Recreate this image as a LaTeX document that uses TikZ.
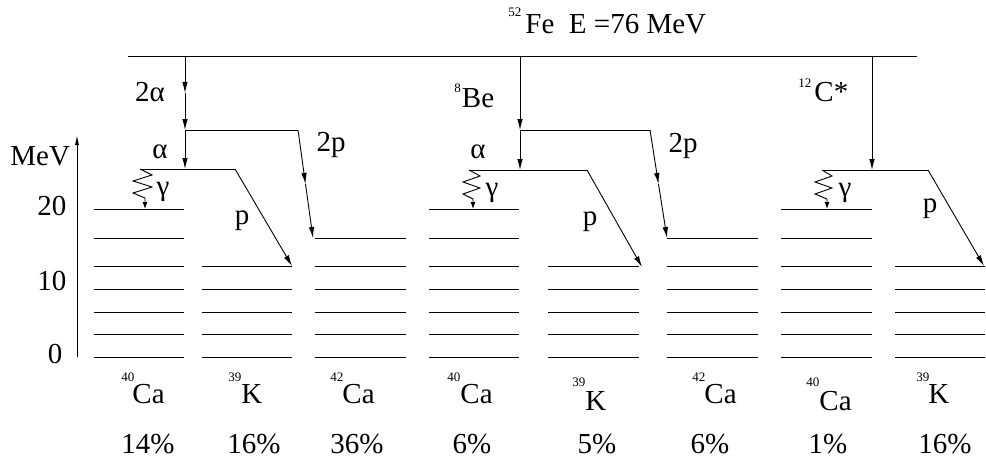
\documentclass[tikz,border=0pt]{standalone}
\usepackage{fontspec}
\setmainfont{Liberation Serif}
\usetikzlibrary{arrows.meta}
\newcommand\supn[2]{\raisebox{#1}{\fontsize{13}{13}\selectfont #2}}
\begin{document}
\begin{tikzpicture}[x=1pt,y=-1pt,line width=0.9pt,
  lvl/.style={line width=1pt},
  arr/.style={-{Latex[length=11pt,width=5.5pt]}},
  garr/.style={-{Latex[length=7pt,width=5pt]}},
  lab/.style={inner sep=0pt,anchor=base,font=\fontsize{29}{29}\selectfont},
  iso/.style={inner sep=0pt,anchor=base west,font=\fontsize{29}{29}\selectfont},
]
\useasboundingbox (0,0) rectangle (986,460);
% title
\node[iso] (title) at (508,34) {\supn{17pt}{52}\kern4pt Fe\ \ E =76 MeV};
\coordinate (topL) at (128,56);
\coordinate (topR) at (917,56);
\draw (topL) -- (topR);
% axis
\coordinate (axB) at (77,357);
\coordinate (axT) at (77,135);
\draw[-{Latex[length=10pt,width=4pt]}] (axB) -- (axT);
\node[lab,anchor=base west] (mev) at (10,165) {MeV};
\node[lab] (l20) at (52,215) {20};
\node[lab] (l10) at (52,290) {10};
\node[lab] (l0) at (55,363) {0};
% level lines
\foreach \y in {209,238,266,289,312,334,357}{
  \draw[lvl] (94,\y) -- (184,\y);
  \draw[lvl] (429,\y) -- (519,\y);
  \draw[lvl] (781,\y) -- (872,\y);}
\foreach \y in {266,289,312,334,357}{
  \draw[lvl] (202,\y) -- (292,\y);
  \draw[lvl] (548,\y) -- (639,\y);
  \draw[lvl] (895,\y) -- (985,\y);}
\foreach \y in {238,266,289,312,334,357}{
  \draw[lvl] (315,\y) -- (406,\y);
  \draw[lvl] (667,\y) -- (758,\y);}
% ---------- group 1
\coordinate (a1) at (185,56);
\coordinate (m1) at (185,93);
\coordinate (b1) at (185,130);
\coordinate (c1) at (185,169);
\coordinate (d1) at (298,130);
\coordinate (e1) at (305.5,184);
\coordinate (f1) at (313,238);
\coordinate (gL1) at (140,169);
\coordinate (gR1) at (235,169);
\coordinate (p1) at (292,266);
\draw[arr] (a1) -- (m1);
\draw[arr] (m1) -- (b1);
\draw[arr] (b1) -- (c1);
\draw (b1) -- (d1);
\draw[arr] (d1) -- (e1);
\draw[arr] (e1) -- (f1);
\draw (gL1) -- (gR1);
\draw[arr] (gR1) -- (p1);
\draw[garr] (gL1) -- ++(12,6) -- ++(-19,6) -- ++(19,6) -- ++(-19,6) -- ++(12,5) -- ++(0,11);
\node[lab] (t2a) at (150,102) {2α};
\node[lab] (ta1) at (160,158) {α};
\node[lab] (t2p1) at (331,151) {2p};
\node[lab] (tp1) at (242,224) {p};
\node[lab] (tg1) at (163,195) {γ};
% ---------- group 2
\coordinate (a2) at (520,56);
\coordinate (b2) at (520,130);
\coordinate (c2) at (520,170);
\coordinate (d2) at (650,130);
\coordinate (e2) at (658.5,184);
\coordinate (f2) at (667,238);
\coordinate (gL2) at (469,170);
\coordinate (gR2) at (587,170);
\coordinate (p2) at (642,267);
\draw[arr] (a2) -- (b2);
\draw[arr] (b2) -- (c2);
\draw (b2) -- (d2);
\draw[arr] (d2) -- (e2);
\draw[arr] (e2) -- (f2);
\draw (gL2) -- (gR2);
\draw[arr] (gR2) -- (p2);
\draw[garr] (gL2) -- ++(11,6) -- ++(-17,6) -- ++(17,6) -- ++(-17,6) -- ++(10,5) -- ++(0,10);
\node[iso] (tbe) at (454,107) {\supn{15pt}{8}\kern1pt Be};
\node[lab] (ta2) at (478,158) {α};
\node[lab] (t2p2) at (683,152) {2p};
\node[lab] (tp2) at (590,225) {p};
\node[lab] (tg2) at (492,196) {γ};
% ---------- group 3
\coordinate (a3) at (872,56);
\coordinate (c3) at (872,170);
\coordinate (gL3) at (822,170);
\coordinate (gR3) at (928,170);
\coordinate (p3) at (984,266);
\draw[arr] (a3) -- (c3);
\draw (gL3) -- (gR3);
\draw[arr] (gR3) -- (p3);
\draw[garr] (gL3) -- ++(10,6) -- ++(-17,6) -- ++(17,6) -- ++(-17,6) -- ++(12,5) -- ++(0,10);
\node[iso] (tc) at (798,102) {\supn{14pt}{12}\kern3pt C*};
\node[lab] (tp3) at (930,212) {p};
\node[lab] (tg3) at (845,196) {γ};
% ---------- isotopes
\node[iso] (i1) at (121,403) {\supn{22pt}{40}\kern-2pt Ca};
\node[iso] (i2) at (228,403) {\supn{22pt}{39}\kern0pt K};
\node[iso] (i3) at (330,403) {\supn{22pt}{42}\kern-1pt Ca};
\node[iso] (i4) at (447,403) {\supn{22pt}{40}\kern0pt Ca};
\node[iso] (i5) at (572,410) {\supn{24pt}{39}\kern0pt K};
\node[iso] (i6) at (692,403) {\supn{22pt}{42}\kern-1pt Ca};
\node[iso] (i7) at (806,410) {\supn{24pt}{40}\kern0pt Ca};
\node[iso] (i8) at (916,403) {\supn{22pt}{39}\kern-1pt K};
% ---------- percentages
\node[lab] (q1) at (148,453) {14\%};
\node[lab] (q2) at (254,453) {16\%};
\node[lab] (q3) at (357,453) {36\%};
\node[lab] (q4) at (472,453) {6\%};
\node[lab] (q5) at (597,453) {5\%};
\node[lab] (q6) at (710,453) {6\%};
\node[lab] (q7) at (828,453) {1\%};
\node[lab] (q8) at (945,453) {16\%};
\end{tikzpicture}
\end{document}
